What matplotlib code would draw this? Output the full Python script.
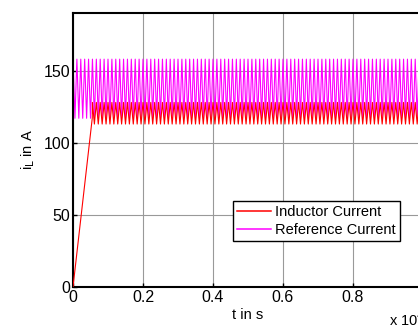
import numpy as np
import matplotlib
matplotlib.use("Agg")
import matplotlib.pyplot as plt

# ---- data ----
x_ticks = [0, 0.2, 0.4, 0.6, 0.8]
x_tick_labels = ["0", "0.2", "0.4", "0.6", "0.8"]
y_ticks = [0, 50, 100, 150]
y_tick_labels = ["0", "50", "100", "150"]

ref_high = 158      # reference current upper level
ref_low = 117       # reference current lower level
ind_high = 128      # inductor current ripple upper level
ind_low = 113       # inductor current ripple lower level
ramp_end_t = 0.055  # end of initial inductor ramp
ramp_start_val = 0
ramp_end_val = 117
n_periods = 90      # switching periods over the time window
t_end = 1.0

# ---- build waveforms (alternating high/low samples per half period) ----
half = t_end / (2 * n_periods)
t_pts = np.arange(0, 2 * n_periods + 1) * half
ref_vals = np.where(np.arange(len(t_pts)) % 2 == 0, ref_high, ref_low)

t_ind = [0.0, ramp_end_t]
i_ind = [ramp_start_val, ramp_end_val]
k = 0
for tp in t_pts:
    if tp > ramp_end_t:
        t_ind.append(tp)
        i_ind.append(ind_high if k % 2 == 0 else ind_low)
        k += 1

plt.rcParams['font.family'] = ['Liberation Sans', 'DejaVu Sans']
fig = plt.figure(figsize=(4.18, 3.29), dpi=100)
ax = fig.add_axes([73/418, 42/329, 350/418, 274/329])

ax.plot(t_ind, i_ind, color='#ff0000', lw=0.8, label='Inductor Current', zorder=3)
ax.plot(t_pts, ref_vals, color='#ff00ff', lw=0.8, label='Reference Current', zorder=2)

ax.set_xlim(0, 1.0)
ax.set_ylim(0, 190)
ax.set_xticks(x_ticks)
ax.set_xticklabels(x_tick_labels)
ax.set_yticks(y_ticks)
ax.set_yticklabels(y_tick_labels)
ax.tick_params(labelsize=11.5, direction='in', length=3, width=1, colors='black', pad=2)
ax.grid(True, color='#999999', lw=0.8, ls='-')
ax.set_axisbelow(True)
for s in ax.spines.values():
    s.set_linewidth(1.5)

ax.set_xlabel('t in s', fontsize=10.5, labelpad=2)
ax.set_ylabel(r'i$_{\mathrm{L}}$ in A', fontsize=10.5, labelpad=5)

leg = ax.legend(loc='upper left', bbox_to_anchor=((233-73)/350, (287-201)/274),
                fontsize=10.5, fancybox=False, framealpha=1, edgecolor='black',
                handlelength=2.3, borderpad=0.3, labelspacing=0.25, handletextpad=0.3,
                borderaxespad=0)
leg.get_frame().set_linewidth(1.0)
for h in leg.get_lines():
    h.set_linewidth(1.1)

fig.text(389/418, 0/329, r'x 10$^{4}$', fontsize=10.5, ha='left', va='bottom')

fig.savefig('out.png', dpi=100)
